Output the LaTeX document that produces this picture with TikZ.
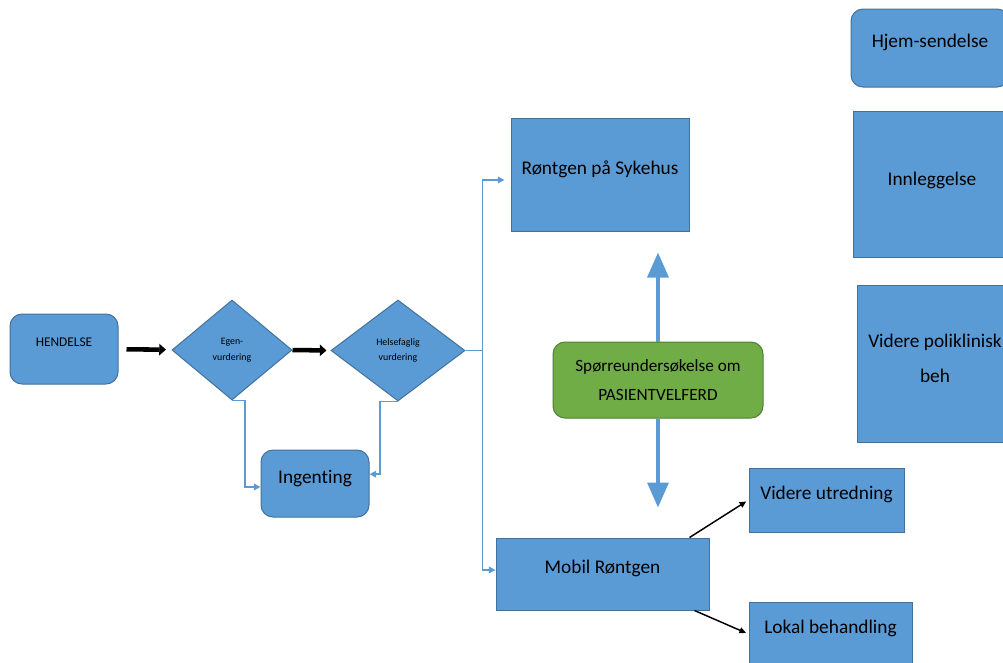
\documentclass[tikz,border=0pt]{standalone}
\usepackage{fontspec}
\setmainfont{Carlito}[Ligatures={NoCommon}]
\usetikzlibrary{arrows.meta,calc,shapes.geometric}
\usetikzlibrary{positioning}

\definecolor{boxblue}{HTML}{5B9BD5}
\definecolor{edgeblue}{HTML}{41719C}
\definecolor{boxgreen}{HTML}{70AD47}
\definecolor{edgegreen}{HTML}{507E32}

\begin{document}
\begin{tikzpicture}[x=0.75pt, y=-0.75pt,
    box/.style={rectangle, draw=edgeblue, fill=boxblue, line width=0.75pt, inner sep=0pt,
        font=\fontsize{14.5}{17}\selectfont},
    roundbox/.style={box, rounded corners=9pt},
    wh/.style 2 args={minimum width=#1*0.75pt, minimum height=#2*0.75pt},
    lift/.style={text height=9.3pt, text depth=9.75pt},
    decision/.style={diamond, aspect=1.2, draw=edgeblue, fill=boxblue, line width=0.75pt,
        inner sep=0pt, align=center, font=\fontsize{7.4}{11.8}\selectfont},
    survey/.style={roundbox, draw=edgegreen, fill=boxgreen, align=center,
        font=\fontsize{12.9}{21.75}\selectfont},
    pusharrow/.style={-{Triangle[length=5pt,width=8.5pt]}, line width=3.4pt},
    flow/.style={draw=boxblue, line width=1.1pt, -{Triangle[length=5pt,width=5pt]}},
    bigflow/.style={draw=boxblue, line width=2.6pt, -{Triangle[length=18.75pt,width=15.75pt]}},
    outcome/.style={-{Triangle[length=5pt,width=4.5pt]}, line width=1.1pt}
    ]
    \useasboundingbox (0,0) rectangle (1003,662);

    % left part: event and the two assessments
    \node[roundbox, wh={108}{70}, font=\fontsize{10}{12}\selectfont,
        text height=6.4pt, text depth=10.5pt] (hendelse) at (64,349) {HENDELSE};
    \node[decision, wh={120}{100}] (egen) at (232,350) {Egen-\\vurdering};
    \node[decision, wh={134}{101}] (helse) at (398,350.5) {Helsefaglig\\vurdering};
    \node[roundbox, wh={108}{67}, lift] (ingenting) at (315,483.5) {Ingenting};

    % middle part
    \node[box, wh={178}{113}, lift] (sykehus) at (600,174.5) {Røntgen på Sykehus};
    \node[survey, wh={210}{76}] (survey) at (658,380) {Spørreundersøkelse om\\PASIENTVELFERD};
    \node[box, wh={213}{72}, lift] (mobil) at (602.5,574) {Mobil Røntgen};
    \node[box, wh={155}{64}, lift] (utredning) at (826.5,500) {Videre utredning};
    \node[box, wh={163}{64}, lift] (lokal) at (830.5,634) {Lokal behandling};

    % right column, cut off by the page edge
    \node[roundbox, wh={158}{78}, lift] (hjem) at (930,48) {Hjem-sendelse};
    \node[box, wh={158}{146}, lift, text depth=7.5pt] (innlegg) at (932,184) {Innleggelse};
    \node[box, wh={156}{157}, label={[align=center, font=\fontsize{14.5}{26}\selectfont,
        yshift=3.75pt]center:Videre poliklinisk\\beh}] (poliklinisk) at (935,363.5) {};

    % black arrows along the main line
    \path[every edge/.style={draw, pusharrow}]
    (hendelse) edge[shorten <=6pt, shorten >=4.5pt] (egen)
    (egen.east) edge[shorten >=3pt] (helse.west);

    % blue branches
    \coordinate (split) at ($(helse.east)+(17,0)$);
    \draw[draw=boxblue, line width=1.1pt] (helse.east) -- (split);
    \draw[flow, shorten >=4.5pt] (split) |- ([yshift=-4.1pt]sykehus.west);
    \draw[flow] (split) |- ([yshift=3pt]mobil.west);
    \draw[flow] (egen.south) -- ++(13,0) |- ([yshift=-2.6pt]ingenting.west);
    \draw[flow] (helse.south) -- ++(-18,0) |- ([yshift=7pt]ingenting.east);

    % survey arrows
    \draw[bigflow, shorten >=15.75pt] (survey.north) -- (survey |- sykehus.south);
    \draw[bigflow, shorten >=22.5pt] (survey.south) -- (survey |- mobil.north);

    % from mobile x-ray to the outcomes
    \foreach \corner/\dx/\target in {north east/-15pt/utredning, south east/-11.25pt/lokal} {
        \path[every edge/.style={draw, outcome}]
        ([xshift=\dx]mobil.\corner) edge[shorten >=2pt] (\target.west);
    }
\end{tikzpicture}
\end{document}
